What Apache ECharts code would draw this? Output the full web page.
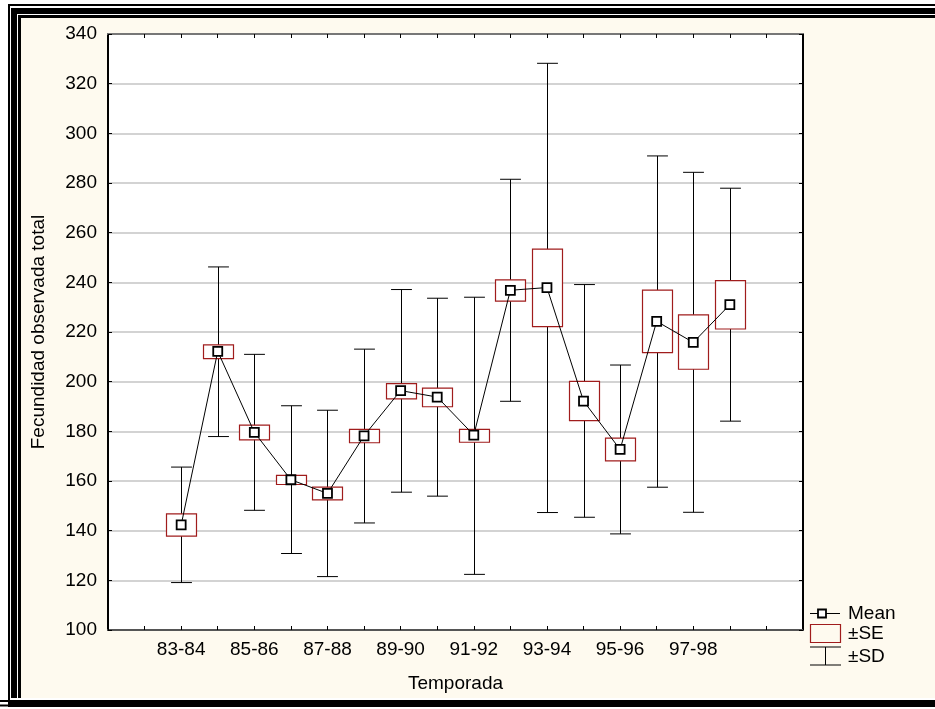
<!DOCTYPE html>
<html><head><meta charset="utf-8">
<script src="https://cdn.jsdelivr.net/npm/echarts@6/dist/echarts.min.js"></script>
<style>html,body{margin:0;padding:0;background:#fff}#c{width:935px;height:709px}</style>
</head><body><div id="c"></div>
<script>
var seasons = ['83-84','84-85','85-86','86-87','87-88','88-89','89-90','90-91','91-92','92-93','93-94','94-95','95-96','96-97','97-98','98-99'];
var means  = [142.3, 212.2, 179.6, 160.5, 155.0, 178.2, 196.4, 193.8, 178.5, 236.8, 237.9, 192.2, 172.7, 224.3, 215.8, 231.0];
var seHigh = [146.8, 214.8, 182.5, 162.3, 157.5, 180.8, 199.2, 197.4, 180.8, 241.0, 253.4, 200.1, 177.3, 236.9, 226.9, 240.7];
var seLow  = [137.8, 209.3, 176.6, 158.6, 152.4, 175.4, 193.1, 189.9, 175.6, 232.4, 222.2, 184.3, 168.1, 211.7, 205.0, 221.2];
var sdHigh = [165.6, 246.2, 211.0, 190.3, 188.5, 213.1, 237.1, 233.6, 234.0, 281.5, 328.2, 239.1, 206.7, 290.9, 284.3, 277.9];
var sdLow  = [119.1, 177.9, 148.2, 130.8, 121.5, 143.1, 155.5, 153.9, 122.4, 192.1, 147.3, 145.4, 138.7, 157.5, 147.4, 184.1];
var yTicks = [100,120,140,160,180,200,220,240,260,280,300,320,340];

var OFFSET = 2; // first season sits on the 2nd axis tick
var FONT = 'Liberation Sans, Arial, sans-serif';
var boxData = seasons.map(function(s,i){ return [i+OFFSET, seLow[i], seHigh[i], sdLow[i], sdHigh[i]]; });
var meanData = seasons.map(function(s,i){ return [i+OFFSET, means[i]]; });

var chart = echarts.init(document.getElementById('c'), null, {renderer:'canvas'});
var axisX = {
  type:'value', min:0, max:19, interval:1,
  axisLine:{show:true, onZero:false, lineStyle:{color:'#555', width:2}},
  axisTick:{show:true, inside:true, length:4, lineStyle:{color:'#000', width:1}},
  splitLine:{show:false}
};
var option = {
  backgroundColor:'#fff',
  animation:false,
  grid:{left:108, right:132, top:34, bottom:79, show:true, backgroundColor:'#fff', borderWidth:0},
  xAxis:[
    Object.assign({}, axisX, {
      position:'bottom',
      name:'Temporada', nameLocation:'middle', nameGap:44,
      nameTextStyle:{fontFamily:FONT, fontSize:19, color:'#000'},
      axisLabel:{show:true, margin:10, fontFamily:FONT, fontSize:19, color:'#000',
        formatter:function(v){ var k=v-OFFSET; return (k>=0 && k<seasons.length && k%2===0) ? seasons[k] : ''; }}
    }),
    Object.assign({}, axisX, {position:'top', axisLabel:{show:false}, axisLine:{show:true, onZero:false, lineStyle:{color:'#777', width:2}}})
  ],
  yAxis:[
    {type:'value', min:yTicks[0], max:yTicks[yTicks.length-1], interval:20, position:'left',
     name:'Fecundidad observada total', nameLocation:'middle', nameGap:60, nameRotate:90,
     nameTextStyle:{fontFamily:FONT, fontSize:19, color:'#000'},
     axisLine:{show:true, onZero:false, lineStyle:{color:'#000', width:2}},
     axisTick:{show:true, inside:true, length:4, lineStyle:{color:'#000', width:1}},
     axisLabel:{margin:11, fontFamily:FONT, fontSize:19, color:'#000'},
     splitLine:{show:true, lineStyle:{color:'#c4c4c4', width:1.5}}},
    {type:'value', min:yTicks[0], max:yTicks[yTicks.length-1], interval:20, position:'right',
     axisLine:{show:true, onZero:false, lineStyle:{color:'#000', width:2}},
     axisTick:{show:true, inside:true, length:4, lineStyle:{color:'#000', width:1}},
     axisLabel:{show:false}, splitLine:{show:false}}
  ],
  graphic:[
    {type:'rect', z:-10, shape:{x:8, y:4, width:940, height:703}, style:{fill:'#000'}},
    {type:'rect', z:-9, shape:{x:10, y:6, width:940, height:694}, style:{fill:'#fff'}},
    {type:'rect', z:-8, shape:{x:11, y:8, width:940, height:690}, style:{fill:'#000'}},
    {type:'rect', z:-7, shape:{x:17, y:14, width:940, height:684}, style:{fill:'#fff'}},
    {type:'rect', z:-6, shape:{x:18, y:15, width:940, height:683}, style:{fill:'#000'}},
    {type:'rect', z:-5, shape:{x:21, y:18, width:940, height:680}, style:{fill:'#fefaef'}},
    {type:'rect', z:-4, shape:{x:0, y:700, width:935, height:2}, style:{fill:'#000'}},
    {type:'rect', z:-4, shape:{x:0, y:704.5, width:935, height:2}, style:{fill:'#000'}},
    // legend
    {type:'line', shape:{x1:810, y1:613.5, x2:840, y2:613.5}, style:{stroke:'#000', lineWidth:1}},
    {type:'rect', shape:{x:818, y:609.5, width:8, height:8}, style:{fill:'#fff', stroke:'#000', lineWidth:1.8}},
    {type:'text', style:{x:848, y:613.5, text:'Mean', font:'19px '+FONT, fill:'#000', verticalAlign:'middle'}},
    {type:'rect', shape:{x:810.5, y:624.5, width:30, height:18}, style:{fill:'none', stroke:'#a01c1c', lineWidth:1.2}},
    {type:'text', style:{x:848, y:633.5, text:'±SE', font:'19px '+FONT, fill:'#000', verticalAlign:'middle'}},
    {type:'line', shape:{x1:810, y1:647, x2:841, y2:647}, style:{stroke:'#000', lineWidth:1}},
    {type:'line', shape:{x1:825.5, y1:647, x2:825.5, y2:665}, style:{stroke:'#000', lineWidth:1}},
    {type:'line', shape:{x1:810, y1:665, x2:841, y2:665}, style:{stroke:'#000', lineWidth:1}},
    {type:'text', style:{x:848, y:656.5, text:'±SD', font:'19px '+FONT, fill:'#000', verticalAlign:'middle'}}
  ],
  series:[
    {type:'custom', z:2, data:boxData, encode:{x:0, y:[1,2,3,4]},
     renderItem:function(params, api){
       var x = api.value(0);
       var pLo = api.coord([x, api.value(1)]), pHi = api.coord([x, api.value(2)]);
       var dLo = api.coord([x, api.value(3)]), dHi = api.coord([x, api.value(4)]);
       var unit = api.size([1,0])[0];
       var bw = unit*0.82, cw = unit*0.57;
       var cx = Math.round(pLo[0])+0.5;
       var ls = {stroke:'#000', lineWidth:1};
       return {type:'group', children:[
         {type:'line', shape:{x1:cx, y1:dLo[1], x2:cx, y2:dHi[1]}, style:ls},
         {type:'line', shape:{x1:cx-cw/2, y1:dHi[1], x2:cx+cw/2, y2:dHi[1]}, style:ls},
         {type:'line', shape:{x1:cx-cw/2, y1:dLo[1], x2:cx+cw/2, y2:dLo[1]}, style:ls},
         {type:'rect', shape:{x:cx-bw/2, y:pHi[1], width:bw, height:pLo[1]-pHi[1]},
          style:{fill:'#fff', stroke:'#a01c1c', lineWidth:1.2}}
       ]};
     }},
    {type:'line', z:3, data:meanData, symbol:'rect', symbolSize:9,
     lineStyle:{color:'#000', width:1},
     itemStyle:{color:'#fff', borderColor:'#000', borderWidth:1.8}}
  ]
};
chart.setOption(option);
</script></body></html>
